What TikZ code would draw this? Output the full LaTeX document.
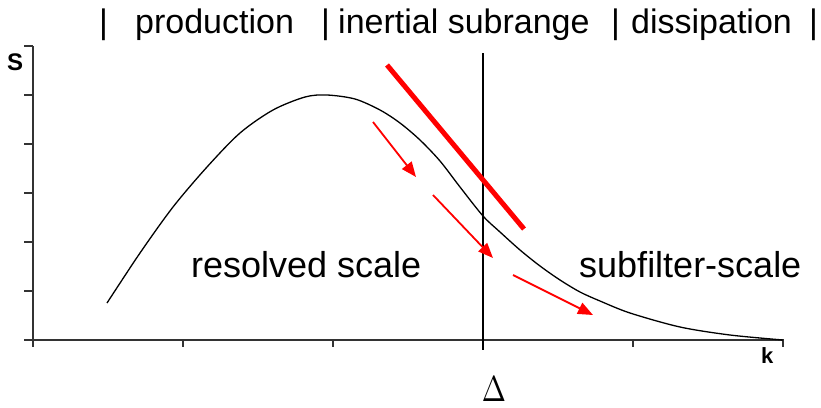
\documentclass[tikz,border=0pt]{standalone}
\usepackage{fontspec}
\setmainfont{Liberation Sans}
\newfontfamily\boldsans{Liberation Sans Bold}
\usetikzlibrary{arrows.meta, positioning}
\tikzset{
  axisline/.style={draw=black!80, line width=1.2pt},
  filterline/.style={draw=black, line width=1.5pt},
  spectrum/.style={draw=black, line width=1.3pt},
  rangeLbl/.style={anchor=base west, inner sep=0pt,
                   font=\fontsize{34}{36}\selectfont},
  scaleLbl/.style={anchor=base west, inner sep=0pt,
                   font=\fontsize{36}{40}\selectfont},
  axisLbl/.style={inner sep=0pt, anchor=base west,
                  font=\boldsans\fontsize{22}{24}\selectfont},
  cascade/.style={draw=red, line width=1.8pt,
                  -{Triangle[length=15pt,width=12pt]}},
  slope/.style={draw=red, line width=5pt},
}
\begin{document}
\begin{tikzpicture}[x=1pt, y=-1pt]
    \useasboundingbox (0,0) rectangle (821,407);

    %% range labels on top
    \node[rangeLbl] (bar1) at (99,33) {|};
    \node[rangeLbl] (prod) at (135,33) {production};
    \node[rangeLbl] (bar2) at (321,33) {|};
    \node[rangeLbl] (inert) at (338,33) {inertial subrange};
    \node[rangeLbl] (bar3) at (611,33) {|};
    \node[rangeLbl] (diss) at (631,33) {dissipation};
    \node[rangeLbl] (bar4) at (809,33) {|};

    %% axes
    \draw[axisline] (33,46) -- (33,347);
    \draw[axisline] (24,340) -- (784,340);
    \foreach \i in {0,...,6}
      \draw[axisline] (24,{340-49*\i}) -- (33,{340-49*\i});
    \foreach \x in {183,333,633,783}
      \draw[axisline] (\x,340) -- (\x,347);
    \node[axisLbl, font=\boldsans\fontsize{24}{26}\selectfont]
          (S) at (7,70) {S};
    \node[axisLbl] (k) at (761,363) {k};

    %% filter width
    \coordinate (filterTop) at (483,53);
    \coordinate (filterBot) at (483,350);
    \draw[filterline] (filterTop) -- (filterBot);
    \node[inner sep=0pt, anchor=base] (delta) at (494,401)
          {\scalebox{2.9}[3.6]{$\Delta$}};

    %% energy spectrum
    \draw[spectrum] plot[smooth, tension=0.5] coordinates {
        (107,303) (140,253) (173,207) (207,167) (240,133) (273,110)
        (305,97) (327,95) (355,99) (380,110) (400,123) (420,140)
        (440,161) (460,187) (483,216) (500,232) (520,250) (540,266)
        (560,280) (580,292) (600,301) (630,313) (680,327) (730,335)
        (783,340)};

    %% -5/3 slope
    \coordinate (slopeA) at (387,65);
    \coordinate (slopeB) at (524,229);
    \draw[slope] (slopeA) -- (slopeB);

    %% energy cascade
    \coordinate (c1s) at (373,122);
    \coordinate (c1e) at (416,177);
    \coordinate (c2s) at (433,195);
    \coordinate (c2e) at (493,258);
    \coordinate (c3s) at (513,275);
    \coordinate (c3e) at (593,315);
    \draw[cascade] (c1s) -- (c1e);
    \draw[cascade] (c2s) -- (c2e);
    \draw[cascade] (c3s) -- (c3e);

    %% scale labels
    \node[scaleLbl] (resolved) at (191,277) {resolved scale};
    \node[scaleLbl] (subfilter) at (579,277) {subfilter-scale};
\end{tikzpicture}
\end{document}
